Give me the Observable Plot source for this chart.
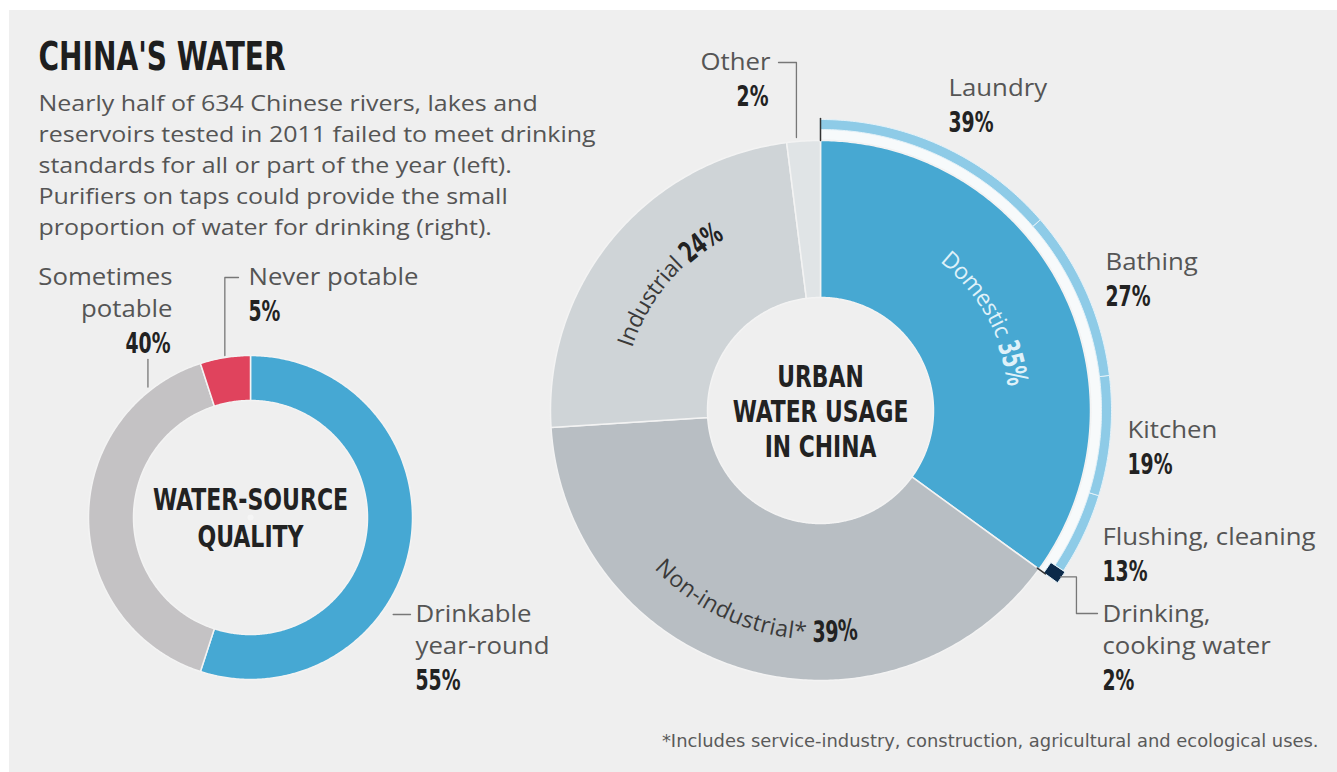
<!DOCTYPE html>
<html><head><meta charset="utf-8">
<script src="https://cdn.jsdelivr.net/npm/d3@7"></script>
<script src="https://cdn.jsdelivr.net/npm/@observablehq/plot@0.6"></script>
<style>
html,body{margin:0;padding:0;background:#fff;}
#chart{position:absolute;left:9px;top:10px;}
</style></head><body><div id="chart"></div>
<script>
// ---------------- DATA ----------------
const qualityCategories = ["Drinkable year-round", "Sometimes potable", "Never potable"];
const qualityValues = [55, 40, 5];
const qualityLabels = ["Drinkable\nyear-round", "Sometimes\npotable", "Never potable"];

const usageCategories = ["Domestic", "Non-industrial*", "Industrial", "Other"];
const usageValues = [35, 39, 24, 2];

const domesticCategories = ["Laundry", "Bathing", "Kitchen", "Flushing, cleaning", "Drinking, cooking water"];
const domesticValues = [39, 27, 19, 13, 2];
const domesticLabels = ["Laundry", "Bathing", "Kitchen", "Flushing, cleaning", "Drinking,\ncooking water"];

const titleText = "CHINA'S WATER";
const subtitleLines = [
  "Nearly half of 634 Chinese rivers, lakes and",
  "reservoirs tested in 2011 failed to meet drinking",
  "standards for all or part of the year (left).",
  "Purifiers on taps could provide the small",
  "proportion of water for drinking (right)."
];
const leftCenterLines = ["WATER-SOURCE", "QUALITY"];
const rightCenterLines = ["URBAN", "WATER USAGE", "IN CHINA"];
const captionText = "*Includes service-industry, construction, agricultural and ecological uses.";

// ---------------- STYLE / LAYOUT ----------------
const REG = "'Open Sans', Lato, sans-serif";
const COND = "'DejaVu Sans Condensed', 'DejaVu Sans', sans-serif";
const qualityColors = ["#46a8d3", "#c4c2c4", "#e0435d"];
const usageColors = ["#47a8d2", "#b8bec3", "#cfd4d7", "#e0e4e6"];
const ringColor = "#8ecbe7", ringGap = "#f7fafb", navy = "#0c2a4a";
const NUM_K = 0.72;   // horizontal squeeze for bold condensed numbers
const REG_K = 1.12;   // horizontal stretch for the wide regular face

const L = {cx: 250, cy: 517, R: 162, r: 117};
const U = {cx: 820, cy: 410, R: 270, r: 113};
const ringIn = U.R + 11, ringOut = U.R + 21;

const polar = (c, a, rad) => [c.cx + rad * Math.sin(a), c.cy - rad * Math.cos(a)];

function arcPoly(key, fill, c, r0, r1, a0, a1) {
  const n = Math.max(2, Math.ceil((a1 - a0) / 0.01));
  const pts = [];
  for (let i = 0; i <= n; i++) { const a = a0 + (a1 - a0) * i / n; const [x, y] = polar(c, a, r1); pts.push({key, fill, x, y}); }
  for (let i = n; i >= 0; i--) { const a = a0 + (a1 - a0) * i / n; const [x, y] = polar(c, a, r0); pts.push({key, fill, x, y}); }
  return pts;
}

const pie = d3.pie().sort(null);
const qArcs = pie(qualityValues);
const uArcs = pie(usageValues);
const dom = uArcs[0];
const dArcs = d3.pie().sort(null).startAngle(dom.startAngle).endAngle(dom.endAngle)(domesticValues);

const slices = [];
qArcs.forEach((a, i) => slices.push(...arcPoly("q" + i, qualityColors[i], L, L.r, L.R, a.startAngle, a.endAngle)));
uArcs.forEach((a, i) => slices.push(...arcPoly("u" + i, usageColors[i], U, U.r, U.R, a.startAngle, a.endAngle)));
const gapPoly = arcPoly("gap", ringGap, U, U.R + 1, ringIn, dom.startAngle, dom.endAngle);
const ring = [];
dArcs.forEach((a, i) => {
  const last = i === dArcs.length - 1;
  ring.push(...arcPoly("d" + i, last ? navy : ringColor, U, last ? U.R + 6 : ringIn, last ? ringOut + 2 : ringOut, a.startAngle, a.endAngle));
});

// text measuring for curved labels
const ctx = document.createElement("canvas").getContext("2d");
function measure(t, font) { ctx.font = font; return ctx.measureText(t).width; }
function arcText(segments, c, rad, thetaC, dir) {
  const chars = []; let total = 0;
  for (const seg of segments) for (const ch of seg.text) {
    const w = measure(ch, seg.font) * seg.k; chars.push({ch, style: seg.style, s: total + w / 2}); total += w;
  }
  return chars.map(o => {
    const th = thetaC + dir * (o.s - total / 2) / rad;
    const [x, y] = polar(c, th, rad);
    const deg = th * 180 / Math.PI;
    return {text: o.ch, style: o.style, x, y, rotate: dir > 0 ? deg : deg - 180};
  });
}
const mid = a => (a.startAngle + a.endAngle) / 2;
const arcLabelSize = 23, arcNumSize = 29;
const fReg = `${arcLabelSize}px ${REG}`, fNum = `bold ${arcNumSize}px ${COND}`;
const seg = (text, style, num) => ({text, style, font: num ? fNum : fReg, k: num ? NUM_K : 1});
const curved = [
  ...arcText([seg(usageCategories[0] + " ", "dreg"), seg(usageValues[0] + "%", "dnum", true)], U, 198, mid(uArcs[0]) - 0.04, 1),
  ...arcText([seg(usageCategories[1] + " ", "reg"), seg(usageValues[1] + "%", "num", true)], U, 222, mid(uArcs[1]) + 0.04, -1),
  ...arcText([seg(usageCategories[2] + " ", "reg"), seg(usageValues[2] + "%", "num", true)], U, 206, mid(uArcs[2]), 1)
];

// outer labels: name lines + bold value
const lineH = 32;
const qualityPos = [{x: 415, y: 614, a: "start"}, {x: 172, y: 277, a: "end"}, {x: 248, y: 277, a: "start"}];
const domesticPos = [{x: 948, y: 88}, {x: 1105, y: 262}, {x: 1127, y: 430}, {x: 1102, y: 537}, {x: 1102, y: 614}];
const otherPos = {x: 770, y: 62};
const nameRows = [], valueRows = [];
function addLabel(label, value, p, anchor) {
  const lines = label.split("\n");
  lines.forEach((t, i) => nameRows.push({text: t, x: p.x, y: p.y + i * lineH, anchor}));
  valueRows.push({text: value + "%", x: p.x + (anchor === "end" ? -2 : 0), y: p.y + (lines.length - 1) * lineH + 34, anchor});
}
qualityLabels.forEach((l, i) => addLabel(l, qualityValues[i], qualityPos[i], qualityPos[i].a));
domesticLabels.forEach((l, i) => addLabel(l, domesticValues[i], domesticPos[i], "start"));
addLabel(usageCategories[3], usageValues[3], otherPos, "end");

// leader lines computed from arc angles
const leaders = [];
function leader(id, pts) { pts.forEach(([x, y]) => leaders.push({id, x, y})); }
{
  const a = qArcs[2], [x, y] = polar(L, mid(a), L.R + 2);
  leader("never", [[qualityPos[2].x - 10, qualityPos[2].y], [x, qualityPos[2].y], [x, y]]);
}
{
  const a = qArcs[1], th = a.startAngle + 0.86 * (a.endAngle - a.startAngle), [x, y] = polar(L, th, L.R + 4);
  leader("sometimes", [[x, qualityPos[1].y + lineH + 50], [x, y]]);
}
{
  const a = qArcs[0], th = a.startAngle + 0.626 * (a.endAngle - a.startAngle), [x, y] = polar(L, th, L.R + 10);
  leader("drinkable", [[x, qualityPos[0].y], [qualityPos[0].x - 5, qualityPos[0].y]]);
}
{
  const a = uArcs[3], th = a.startAngle + 0.3 * (a.endAngle - a.startAngle), [x, y] = polar(U, th, U.R + 4);
  leader("other", [[otherPos.x + 8, otherPos.y], [x, otherPos.y], [x, y]]);
}
{
  const a = dArcs[4], [x, y] = polar(U, mid(a), ringOut + 1);
  const p = domesticPos[4];
  leader("drinking", [[x, y], [x + 16, y], [x + 16, p.y - 1], [p.x - 5, p.y - 1]]);
}
const ticks = [];
{
  const [x0, y0] = polar(U, dom.startAngle, U.R), [x1, y1] = polar(U, dom.startAngle, ringOut + 1);
  ticks.push({id: "t0", x: x0, y: y0}, {id: "t0", x: x1, y: y1});
  const [x2, y2] = polar(U, dom.endAngle, U.R - 2), [x3, y3] = polar(U, dom.endAngle, U.R + 8);
  ticks.push({id: "t1", x: x2, y: y2}, {id: "t1", x: x3, y: y3});
}

const leftCenterRows = leftCenterLines.map((t, i) => ({text: t, x: L.cx, y: 500 + i * 37}));
const rightCenterRows = rightCenterLines.map((t, i) => ({text: t, x: U.cx, y: 377 + i * 35}));
const subRows = subtitleLines.map((t, i) => ({text: t, x: 38, y: 103 + i * 31}));

const nameStyle = {x: "x", y: "y", text: "text", fontFamily: REG, fontSize: 23, fill: "#555", className: "sq-reg"};
const valStyle = {x: "x", y: "y", text: "text", fontFamily: COND, fontWeight: "bold", fontSize: 29, fill: "#222", className: "sq-num"};
const centerStyle = {x: "x", y: "y", text: "text", fontFamily: COND, fontWeight: "bold", fill: "#222"};
const chart = Plot.plot({
  width: 1328, height: 762, margin: 0,
  x: {domain: [9, 1337], range: [0, 1328], axis: null},
  y: {domain: [10, 772], range: [0, 762], axis: null},
  color: {type: "identity"},
  style: {background: "#efefef", overflow: "visible"},
  marks: [
    Plot.line(slices, {x: "x", y: "y", z: "key", fill: "fill", stroke: "#f3f3f3", strokeWidth: 1.5, curve: "linear-closed"}),
    Plot.line(gapPoly, {x: "x", y: "y", z: "key", fill: "fill", stroke: "none", curve: "linear-closed"}),
    Plot.line(ring, {x: "x", y: "y", z: "key", fill: "fill", stroke: "#e4f2f9", strokeWidth: 1, curve: "linear-closed"}),
    Plot.dot([L, U], {x: "cx", y: "cy", r: d => d.r - 1, fill: "#f5f5f5", stroke: "none"}),
    Plot.line(ticks, {x: "x", y: "y", z: "id", stroke: "#333", strokeWidth: 1.5}),
    Plot.line(leaders, {x: "x", y: "y", z: "id", stroke: "#777", strokeWidth: 1.3}),
    // title & subtitle
    Plot.text([titleText], {x: 38, y: 57, text: d => d, textAnchor: "start", fontFamily: COND, fontWeight: "bold", fontSize: 39, fill: "#1e1e1e", className: "sq-title"}),
    Plot.text(subRows, {x: "x", y: "y", text: "text", textAnchor: "start", fontFamily: REG, fontSize: 22.5, fill: "#555", className: "sq-sub"}),
    // center labels
    Plot.text(leftCenterRows, {...centerStyle, fontSize: 31, className: "sq-cl"}),
    Plot.text(rightCenterRows, {...centerStyle, fontSize: 30, className: "sq-cr"}),
    // outer labels
    Plot.text(nameRows.filter(d => d.anchor === "start"), {...nameStyle, textAnchor: "start"}),
    Plot.text(nameRows.filter(d => d.anchor === "end"), {...nameStyle, textAnchor: "end"}),
    Plot.text(valueRows.filter(d => d.anchor === "start"), {...valStyle, textAnchor: "start"}),
    Plot.text(valueRows.filter(d => d.anchor === "end"), {...valStyle, textAnchor: "end"}),
    // curved slice labels
    Plot.text(curved.filter(d => d.style === "reg"), {x: "x", y: "y", text: "text", rotate: "rotate", fontFamily: REG, fontSize: arcLabelSize, fill: "#3a3a3a"}),
    Plot.text(curved.filter(d => d.style === "num"), {x: "x", y: "y", text: "text", rotate: "rotate", fontFamily: COND, fontWeight: "bold", fontSize: arcNumSize, fill: "#222", className: "sq-num"}),
    Plot.text(curved.filter(d => d.style === "dreg"), {x: "x", y: "y", text: "text", rotate: "rotate", fontFamily: REG, fontSize: arcLabelSize, fill: "#dff1f9"}),
    Plot.text(curved.filter(d => d.style === "dnum"), {x: "x", y: "y", text: "text", rotate: "rotate", fontFamily: COND, fontWeight: "bold", fontSize: arcNumSize, fill: "#dff1f9", className: "sq-num"}),
    // caption
    Plot.text([captionText], {x: 1318, y: 741, text: d => d, textAnchor: "end", fontFamily: COND, fontSize: 17, fill: "#5a5a5a", className: "sq-cap"})
  ]
});
document.getElementById("chart").append(chart);

// horizontal squeeze / stretch to imitate the original typefaces
function squeeze(cls, k) {
  chart.querySelectorAll(`g.${cls} text`).forEach(t => {
    const w = t.getComputedTextLength();
    t.setAttribute("textLength", (w * k).toFixed(1));
    t.setAttribute("lengthAdjust", "spacingAndGlyphs");
  });
}
squeeze("sq-num", NUM_K);
squeeze("sq-title", 0.8);
squeeze("sq-cl", 0.79);
squeeze("sq-cr", 0.81);
squeeze("sq-sub", 1.11);
squeeze("sq-reg", REG_K);
squeeze("sq-cap", 1.17);
</script></body></html>
